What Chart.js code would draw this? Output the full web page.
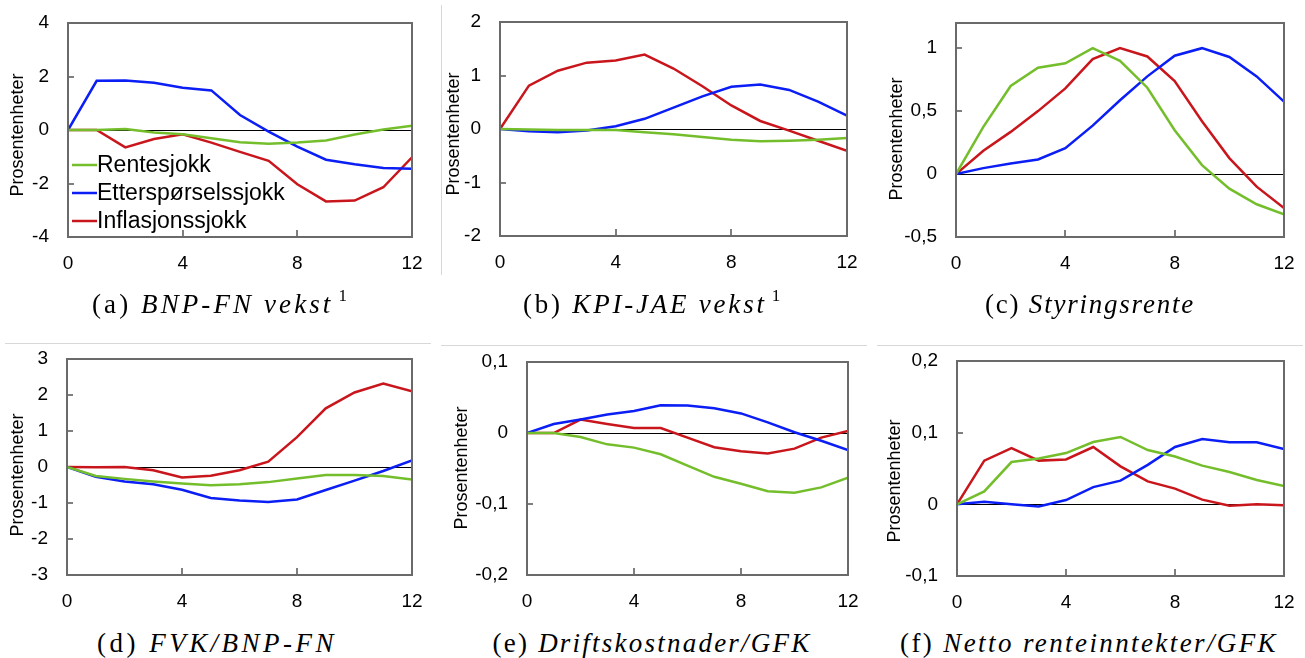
<!DOCTYPE html>
<html><head><meta charset="utf-8">
<script src="https://cdn.jsdelivr.net/npm/chart.js@4.4.0/dist/chart.umd.min.js"></script>
<style>
html,body{margin:0;padding:0;background:#fff;width:1305px;height:658px;overflow:hidden;position:relative}
canvas{position:absolute;z-index:1}
.pbox{position:absolute;box-sizing:border-box;border:2px solid #6a6a6a;z-index:5;pointer-events:none}
.cap{position:absolute;width:600px;text-align:center;font-family:"Liberation Serif",serif;font-size:27px;line-height:27px;white-space:nowrap;color:#000;z-index:6}
.cap span.in{display:inline-block}
.cap .sup{font-size:17px;position:relative;top:-12px;margin-left:5px;font-style:normal}
.sep{position:absolute;background:#d8d8d8;z-index:6}
</style></head><body>
<div class="sep" style="left:441px;top:5px;width:1px;height:270px"></div>
<div class="sep" style="left:5px;top:343px;width:426px;height:1px"></div>
<div class="sep" style="left:441px;top:345px;width:426px;height:1px"></div>
<div class="sep" style="left:877px;top:345px;width:426px;height:1px"></div>
<script>
// ---- data ----
const horizons = [0,1,2,3,4,5,6,7,8,9,10,11,12];
const seriesNames = ["Rentesjokk","Etterspørselssjokk","Inflasjonssjokk"];
const xTicks = [0,4,8,12];

// (a) BNP-FN vekst
const bnpRente = [0, 0, 0.04, -0.09, -0.16, -0.31, -0.46, -0.51, -0.47, -0.39, -0.17, 0.02, 0.16];
const bnpEtter = [0, 1.84, 1.85, 1.77, 1.58, 1.48, 0.56, -0.06, -0.62, -1.11, -1.28, -1.42, -1.45];
const bnpInfl  = [0, 0, -0.65, -0.34, -0.16, -0.47, -0.82, -1.15, -2.03, -2.67, -2.64, -2.14, -1.02];
const yTicksA = [-4,-2,0,2,4];

// (b) KPI-JAE vekst
const kpiRente = [0, -0.01, -0.02, -0.02, -0.02, -0.06, -0.10, -0.15, -0.20, -0.23, -0.22, -0.20, -0.17];
const kpiEtter = [0, -0.04, -0.06, -0.03, 0.05, 0.19, 0.40, 0.61, 0.79, 0.83, 0.73, 0.51, 0.25];
const kpiInfl  = [0, 0.81, 1.09, 1.24, 1.28, 1.39, 1.13, 0.80, 0.44, 0.15, -0.03, -0.22, -0.41];
const yTicksB = [-2,-1,0,1,2];

// (c) Styringsrente
const renteRente = [0, 0.375, 0.70, 0.845, 0.88, 1.0, 0.90, 0.686, 0.348, 0.071, -0.116, -0.24, -0.32];
const renteEtter = [0, 0.047, 0.084, 0.116, 0.206, 0.385, 0.586, 0.776, 0.94, 1.0, 0.93, 0.776, 0.575];
const renteInfl  = [0, 0.185, 0.335, 0.50, 0.68, 0.913, 1.0, 0.934, 0.739, 0.42, 0.127, -0.10, -0.27];
const yTicksC = [-0.5,0,0.5,1];

// (d) FVK/BNP-FN
const fvkRente = [0, -0.25, -0.33, -0.40, -0.46, -0.51, -0.48, -0.42, -0.32, -0.22, -0.22, -0.25, -0.35];
const fvkEtter = [0, -0.27, -0.40, -0.48, -0.63, -0.86, -0.93, -0.97, -0.90, -0.64, -0.38, -0.11, 0.18];
const fvkInfl  = [0, -0.01, 0.0, -0.09, -0.29, -0.24, -0.09, 0.15, 0.83, 1.63, 2.07, 2.32, 2.10];
const yTicksD = [-3,-2,-1,0,1,2,3];

// (e) Driftskostnader/GFK
const driftRente = [0, 0, -0.0056, -0.016, -0.0206, -0.030, -0.046, -0.0617, -0.0715, -0.082, -0.084, -0.0766, -0.063];
const driftEtter = [0, 0.0126, 0.019, 0.026, 0.031, 0.039, 0.0388, 0.035, 0.0276, 0.015, 0.001, -0.011, -0.024];
const driftInfl  = [0, 0, 0.019, 0.0126, 0.007, 0.007, -0.0065, -0.020, -0.0257, -0.029, -0.022, -0.0065, 0.003];
const yTicksE = [-0.2,-0.1,0,0.1];

// (f) Netto renteinntekter/GFK
const nettoRente = [0, 0.018, 0.059, 0.064, 0.0715, 0.087, 0.094, 0.0757, 0.0668, 0.054, 0.045, 0.034, 0.0257];
const nettoEtter = [0, 0.0037, 0, -0.003, 0.006, 0.024, 0.033, 0.055, 0.080, 0.091, 0.0865, 0.0865, 0.077];
const nettoInfl  = [0, 0.061, 0.0785, 0.061, 0.0626, 0.080, 0.053, 0.032, 0.022, 0.0065, -0.002, 0, -0.0014];
const yTicksF = [-0.1,0,0.1,0.2];

const yTitle = "Prosentenheter";
const captions = [
  ["(a)","BNP-FN vekst","1"],
  ["(b)","KPI-JAE vekst","1"],
  ["(c)","Styringsrente",""],
  ["(d)","FVK/BNP-FN",""],
  ["(e)","Driftskostnader/GFK",""],
  ["(f)","Netto renteinntekter/GFK",""]
];

// ---- layout / style ----
const colors = ["#74be2c","#0a1ef5","#c8161c"];
const panels = [
  {plot:[68,23,412,237],  yMin:-4,   yMax:4,   yTicks:yTicksA, series:[bnpRente,bnpEtter,bnpInfl],     title:[18,135],  cap:[221,291,258], legend:true},
  {plot:[500,22,847,236], yMin:-2,   yMax:2,   yTicks:yTicksB, series:[kpiRente,kpiEtter,kpiInfl],     title:[454,134], cap:[653,291,260]},
  {plot:[956,23,1284,237],yMin:-0.5, yMax:1.2, yTicks:yTicksC, series:[renteRente,renteEtter,renteInfl],title:[897,139], cap:[1090,291,210]},
  {plot:[67,359,412,575], yMin:-3,   yMax:3,   yTicks:yTicksD, series:[fvkRente,fvkEtter,fvkInfl],     title:[18,475],  cap:[217,630,240]},
  {plot:[527,362,848,575],yMin:-0.2, yMax:0.1, yTicks:yTicksE, series:[driftRente,driftEtter,driftInfl],title:[462,468], cap:[652,630,319]},
  {plot:[957,361,1284,576],yMin:-0.1,yMax:0.2, yTicks:yTicksF, series:[nettoRente,nettoEtter,nettoInfl],title:[895,481], cap:[1089,630,378]}
];

const ML = 95, MT = 45, MR = 45, MB = 50, XH = 40;
const FONT = '"Liberation Sans", Arial, sans-serif';
const FRAME = '#6a6a6a';
const TICKC = '#555555';
const CLEAR = 'rgba(0,0,0,0)';
const fmt = v => String(Math.round(v*1000)/1000).replace('.', ',');

panels.forEach((p, idx) => {
  const [L,T,R,B] = p.plot;
  const w = R - L, h = B - T;

  const cw = w + ML + MR, ch = h + MT + MB;
  const cl = L - ML, ct = T - MT;
  const cv = document.createElement('canvas');
  cv.width = cw; cv.height = ch;
  cv.style.left = cl + 'px'; cv.style.top = ct + 'px';
  cv.style.width = cw + 'px'; cv.style.height = ch + 'px';
  document.body.appendChild(cv);

  const yAll = Array.from(new Set([p.yMin, ...p.yTicks, p.yMax])).sort((a, b) => a - b);
  const isEndY = v => Math.abs(v - p.yMin) < 1e-9 || Math.abs(v - p.yMax) < 1e-9;
  const isLabY = v => p.yTicks.some(t => Math.abs(t - v) < 1e-9);

  const decor = {
    id: 'decor' + idx,
    afterDatasetsDraw(chart) {
      const c = chart.ctx, a = chart.chartArea;
      c.save();
      c.strokeStyle = FRAME;
      c.lineWidth = 2;
      c.strokeRect(Math.round(a.left), Math.round(a.top), Math.round(a.right - a.left), Math.round(a.bottom - a.top));
      c.restore();
    },
    afterDraw(chart) {
      const c = chart.ctx, a = chart.chartArea;
      c.save();
      c.fillStyle = '#000';
      c.font = '18px ' + FONT;
      c.textAlign = 'center'; c.textBaseline = 'middle';
      c.translate(p.title[0] - cl, p.title[1] - ct);
      c.rotate(-Math.PI/2);
      c.fillText(yTitle, 0, 0);
      c.restore();

      if (p.legend) {
        c.save();
        c.font = '23px ' + FONT;
        c.textAlign = 'left'; c.textBaseline = 'middle';
        chart.data.datasets.forEach((ds, i) => {
          const y = a.top + 142 + i*28;
          c.strokeStyle = ds.borderColor; c.lineWidth = 2.5;
          c.beginPath(); c.moveTo(a.left + 4, y); c.lineTo(a.left + 29, y); c.stroke();
          c.fillStyle = '#000';
          c.fillText(ds.label, a.left + 29, y + 1);
        });
        c.restore();
      }
    }
  };

  const pad = {left: 0, top: MT, right: MR, bottom: MB - XH};
  const chart = new Chart(cv, {
    type: 'line',
    data: {
      datasets: p.series.map((arr, i) => ({
        label: seriesNames[i],
        data: horizons.map((hh, k) => ({x: hh, y: arr[k]})),
        borderColor: colors[i],
        borderWidth: 2.5,
        pointRadius: 0,
        tension: 0,
        fill: false
      }))
    },
    options: {
      responsive: false,
      animation: false,
      devicePixelRatio: 1,
      layout: {padding: pad},
      plugins: {legend: {display: false}, tooltip: {enabled: false}},
      scales: {
        x: {
          type: 'linear', min: 0, max: 12,
          afterBuildTicks: s => { s.ticks = xTicks.map(v => ({value: v})); },
          afterFit: s => { s.height = XH; },
          grid: {
            display: true, drawOnChartArea: true, drawTicks: true, tickLength: -7,
            lineWidth: 2,
            color: ctx => (ctx.tick && (ctx.tick.value === 0 || ctx.tick.value === 12)) ? FRAME : CLEAR,
            tickColor: ctx => (ctx.tick && ctx.tick.value > 0 && ctx.tick.value < 12) ? TICKC : CLEAR,
            tickWidth: 1.5
          },
          border: {display: false},
          ticks: {font: {family: FONT, size: 19}, color: '#000', padding: 22, maxRotation: 0, autoSkip: false, callback: v => fmt(v)}
        },
        y: {
          type: 'linear', min: p.yMin, max: p.yMax,
          afterBuildTicks: s => { s.ticks = yAll.map(v => ({value: v})); },
          afterFit: s => { s.width = ML; },
          grid: {
            display: true, drawOnChartArea: true, drawTicks: true, tickLength: -6,
            lineWidth: ctx => (ctx.tick && ctx.tick.value === 0) ? 1 : 2,
            color: ctx => {
              if (!ctx.tick) return CLEAR;
              if (ctx.tick.value === 0) return '#000';
              return isEndY(ctx.tick.value) ? FRAME : CLEAR;
            },
            tickColor: ctx => (ctx.tick && !isEndY(ctx.tick.value) && ctx.tick.value !== 0) ? TICKC : CLEAR,
            tickWidth: 1.5
          },
          border: {display: false},
          ticks: {font: {family: FONT, size: 19}, color: '#000', padding: 25, autoSkip: false,
                  callback: v => isLabY(v) ? fmt(v) : ''}
        }
      }
    },
    plugins: [decor]
  });

  // nudge layout padding so the plot area lands exactly on the target rectangle
  for (let k = 0; k < 5; k++) {
    const a = chart.chartArea;
    const dT = MT - a.top, dL = ML - a.left, dR = a.right - (ML + w), dB = a.bottom - (MT + h);
    if (Math.abs(dT) < 0.5 && Math.abs(dL) < 0.5 && Math.abs(dR) < 0.5 && Math.abs(dB) < 0.5) break;
    const pp = chart.options.layout.padding;
    chart.options.layout.padding = {
      top: Math.max(0, pp.top + dT), left: Math.max(0, pp.left + dL),
      right: Math.max(0, pp.right + dR), bottom: Math.max(0, pp.bottom + dB)
    };
    chart.update();
  }

  // plot-area box placed on the chart's own chart area, above the canvas
  const a = chart.chartArea;
  const fr = document.createElement('div');
  fr.className = 'pbox';
  fr.style.left = (cl + a.left - 1) + 'px'; fr.style.top = (ct + a.top - 1) + 'px';
  fr.style.width = (a.right - a.left + 2) + 'px'; fr.style.height = (a.bottom - a.top + 2) + 'px';
  document.body.appendChild(fr);

  const cap = document.createElement('div');
  cap.className = 'cap';
  cap.style.left = (p.cap[0] - 300) + 'px';
  cap.style.top = p.cap[1] + 'px';
  const c = captions[idx];
  const inner = document.createElement('span');
  inner.className = 'in';
  inner.innerHTML = c[0] + ' <i>' + c[1] + '</i>' + (c[2] ? '<span class="sup">' + c[2] + '</span>' : '');
  cap.appendChild(inner);
  document.body.appendChild(cap);
  const nat = inner.getBoundingClientRect().width;
  const n = (c[0] + ' ' + c[1] + (c[2] ? c[2] : '')).length;
  inner.style.letterSpacing = ((p.cap[2] - nat) / n) + 'px';
});
</script>
</body></html>
